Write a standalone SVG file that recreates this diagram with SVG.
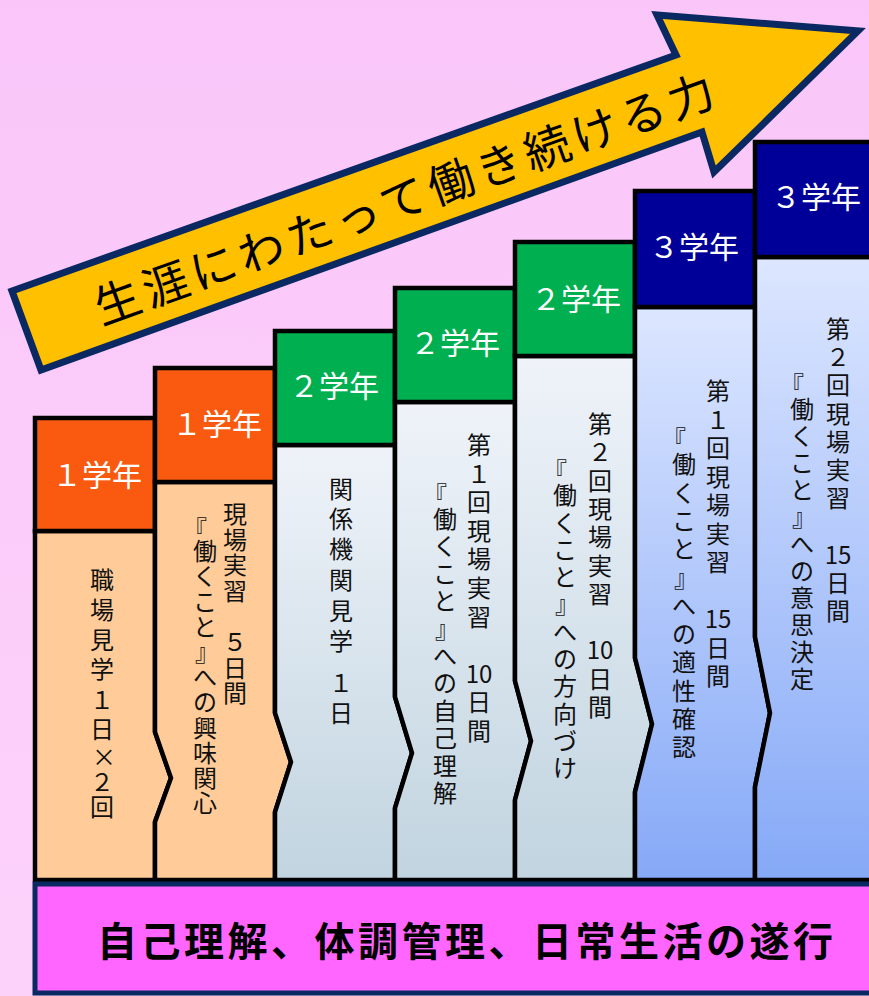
<svg xmlns="http://www.w3.org/2000/svg" width="869" height="996" viewBox="0 0 869 996">
<defs>
<linearGradient id="gBlue" x1="0" y1="0" x2="0" y2="1">
<stop offset="0" stop-color="#EFF3F9"/>
<stop offset="1" stop-color="#C1D4E0"/>
</linearGradient>
<linearGradient id="gNavy" x1="0" y1="0" x2="0" y2="1">
<stop offset="0" stop-color="#DCE6FF"/>
<stop offset="1" stop-color="#86A9F7"/>
</linearGradient>
<linearGradient id="gBg" x1="0" y1="0" x2="0" y2="1">
<stop offset="0" stop-color="#FAC6F9"/>
<stop offset="1" stop-color="#FCD2FA"/>
</linearGradient>
</defs>
<style>
.body{stroke:#000;stroke-width:4.5;stroke-linejoin:miter}
.peach{fill:#FFCC99}
.blue{fill:url(#gBlue)}
.navyb{fill:url(#gNavy)}
.hdr{stroke:#000;stroke-width:4.5}
.orange{fill:#F95A10}
.green{fill:#00B050}
.navy{fill:#000099}
.hd{font-family:"Noto Sans CJK JP","Noto Sans",sans-serif;font-size:30px;fill:#fff;text-anchor:middle;dominant-baseline:central}
.v,.v tspan{font-family:"Noto Sans CJK JP","Noto Sans",sans-serif;font-size:24px;fill:#111;text-anchor:middle;dominant-baseline:central}
.arrowtxt{font-family:"Noto Sans CJK JP","Noto Sans",sans-serif;font-size:46px;fill:#000;text-anchor:middle;dominant-baseline:central}
.basetxt{font-family:"Noto Sans CJK JP","Noto Sans",sans-serif;font-size:40px;font-weight:bold;fill:#000;text-anchor:middle;dominant-baseline:central}
</style>
<rect x="0" y="0" width="869" height="996" fill="url(#gBg)"/>

<g id="arrow">
<path d="M12,291 L676,55 L657,15 L858,31 L714,172 L702,132 L41,370 Z" fill="#FFC000" stroke="#0A2862" stroke-width="7" stroke-linejoin="miter" stroke-miterlimit="10"/>
<text class="arrowtxt" transform="translate(403,196) rotate(-19.7)" x="0" y="0" textLength="655" lengthAdjust="spacing">生涯にわたって働き続ける力</text>
</g>

<g id="connectors"></g>

<g id="col1">
<path class="body peach" d="M35,531 L155,531 L155,732 L171,778 L155,822 L155,880 L35,880 Z"/>
<rect class="hdr orange" x="35" y="418" width="120" height="113"/>
<text class="hd" x="97" y="473">１学年</text>
<text class="v"><tspan x="102" y="578">職</tspan><tspan x="102" y="608">場</tspan><tspan x="102" y="638">見</tspan><tspan x="102" y="667">学</tspan><tspan x="102" y="698">１</tspan><tspan x="102" y="727">日</tspan><tspan x="104" y="755">×</tspan><tspan x="102" y="780">２</tspan><tspan x="102" y="805">回</tspan></text>
</g>

<g id="col2">
<path class="body peach" d="M155,482 L275,482 L275,713 L291,762 L275,812 L275,880 L155,880 L155,822 L171,778 L155,732 Z"/>
<rect class="hdr orange" x="155" y="368" width="120" height="114"/>
<text class="hd" x="217" y="422">１学年</text>
<text class="v"><tspan x="235" y="512">現</tspan><tspan x="235" y="538">場</tspan><tspan x="235" y="563">実</tspan><tspan x="235" y="589">習</tspan><tspan x="235" y="640">５</tspan><tspan x="235" y="666">日</tspan><tspan x="235" y="691">間</tspan></text>
<text class="v"><tspan x="195" y="527">『</tspan><tspan x="205" y="549">働</tspan><tspan x="205" y="574">く</tspan><tspan x="205" y="600">こ</tspan><tspan x="205" y="625">と</tspan><tspan x="207" y="650">』</tspan><tspan x="205" y="675">へ</tspan><tspan x="205" y="700">の</tspan><tspan x="205" y="726">興</tspan><tspan x="205" y="751">味</tspan><tspan x="205" y="776">関</tspan><tspan x="205" y="801">心</tspan></text>
</g>

<g id="col3">
<path class="body blue" d="M275,445 L395,445 L395,697 L412,753 L395,808 L395,880 L275,880 L275,812 L291,762 L275,713 Z"/>
<rect class="hdr green" x="275" y="331" width="120" height="114"/>
<text class="hd" x="334" y="384">２学年</text>
<text class="v"><tspan x="341" y="487">関</tspan><tspan x="341" y="517">係</tspan><tspan x="341" y="547">機</tspan><tspan x="341" y="578">関</tspan><tspan x="341" y="609">見</tspan><tspan x="341" y="639">学</tspan><tspan x="341" y="681">１</tspan><tspan x="341" y="711">日</tspan></text>
</g>

<g id="col4">
<path class="body blue" d="M395,402 L515,402 L515,681 L531,741 L515,800 L515,880 L395,880 L395,808 L412,753 L395,697 Z"/>
<rect class="hdr green" x="395" y="288" width="120" height="114"/>
<text class="hd" x="455" y="341">２学年</text>
<text class="v"><tspan x="479" y="443">第</tspan><tspan x="479" y="472">１</tspan><tspan x="479" y="500">回</tspan><tspan x="479" y="529">現</tspan><tspan x="479" y="557">場</tspan><tspan x="479" y="586">実</tspan><tspan x="479" y="615">習</tspan><tspan x="479" y="672">10</tspan><tspan x="479" y="700">日</tspan><tspan x="479" y="729">間</tspan></text>
<text class="v"><tspan x="435" y="493">『</tspan><tspan x="445" y="517">働</tspan><tspan x="445" y="544">く</tspan><tspan x="445" y="572">こ</tspan><tspan x="445" y="599">と</tspan><tspan x="447" y="627">』</tspan><tspan x="445" y="654">へ</tspan><tspan x="445" y="681">の</tspan><tspan x="445" y="709">自</tspan><tspan x="445" y="736">己</tspan><tspan x="445" y="764">理</tspan><tspan x="445" y="791">解</tspan></text>
</g>

<g id="col5">
<path class="body blue" d="M515,356 L635,356 L635,658 L652,724 L635,792 L635,880 L515,880 L515,800 L531,741 L515,681 Z"/>
<rect class="hdr green" x="515" y="242" width="120" height="114"/>
<text class="hd" x="576" y="297">２学年</text>
<text class="v"><tspan x="600" y="422">第</tspan><tspan x="600" y="450">２</tspan><tspan x="600" y="479">回</tspan><tspan x="600" y="507">現</tspan><tspan x="600" y="535">場</tspan><tspan x="600" y="564">実</tspan><tspan x="600" y="592">習</tspan><tspan x="600" y="648">10</tspan><tspan x="600" y="677">日</tspan><tspan x="600" y="705">間</tspan></text>
<text class="v"><tspan x="555" y="469">『</tspan><tspan x="565" y="493">働</tspan><tspan x="565" y="521">く</tspan><tspan x="565" y="548">こ</tspan><tspan x="565" y="575">と</tspan><tspan x="567" y="602">』</tspan><tspan x="565" y="630">へ</tspan><tspan x="565" y="657">の</tspan><tspan x="565" y="684">方</tspan><tspan x="565" y="712">向</tspan><tspan x="565" y="739">づ</tspan><tspan x="565" y="766">け</tspan></text>
</g>

<g id="col6">
<path class="body navyb" d="M635,307 L755,307 L755,637 L770,713 L755,787 L755,880 L635,880 L635,792 L652,724 L635,658 Z"/>
<rect class="hdr navy" x="635" y="191" width="120" height="116"/>
<text class="hd" x="694" y="245">３学年</text>
<text class="v"><tspan x="718" y="389">第</tspan><tspan x="718" y="418">１</tspan><tspan x="718" y="446">回</tspan><tspan x="718" y="475">現</tspan><tspan x="718" y="503">場</tspan><tspan x="718" y="532">実</tspan><tspan x="718" y="560">習</tspan><tspan x="718" y="617">15</tspan><tspan x="718" y="646">日</tspan><tspan x="718" y="674">間</tspan></text>
<text class="v"><tspan x="674" y="437">『</tspan><tspan x="684" y="462">働</tspan><tspan x="684" y="491">く</tspan><tspan x="684" y="519">こ</tspan><tspan x="684" y="547">と</tspan><tspan x="686" y="576">』</tspan><tspan x="684" y="604">へ</tspan><tspan x="684" y="632">の</tspan><tspan x="684" y="660">適</tspan><tspan x="684" y="689">性</tspan><tspan x="684" y="717">確</tspan><tspan x="684" y="745">認</tspan></text>
</g>

<g id="col7">
<path class="body navyb" d="M755,257 L880,257 L880,880 L755,880 L755,787 L770,713 L755,637 Z"/>
<rect class="hdr navy" x="755" y="142" width="125" height="115"/>
<text class="hd" x="816" y="195">３学年</text>
<text class="v"><tspan x="838" y="327">第</tspan><tspan x="838" y="355">２</tspan><tspan x="838" y="383">回</tspan><tspan x="838" y="412">現</tspan><tspan x="838" y="440">場</tspan><tspan x="838" y="468">実</tspan><tspan x="838" y="496">習</tspan><tspan x="838" y="553">15</tspan><tspan x="838" y="581">日</tspan><tspan x="838" y="609">間</tspan></text>
<text class="v"><tspan x="792" y="383">『</tspan><tspan x="802" y="407">働</tspan><tspan x="802" y="434">く</tspan><tspan x="802" y="461">こ</tspan><tspan x="802" y="488">と</tspan><tspan x="804" y="515">』</tspan><tspan x="802" y="542">へ</tspan><tspan x="802" y="569">の</tspan><tspan x="802" y="596">意</tspan><tspan x="802" y="623">思</tspan><tspan x="802" y="650">決</tspan><tspan x="802" y="677">定</tspan></text>
</g>

<g id="base">
<rect x="35" y="884" width="850" height="109" fill="#FF66FF" stroke="#0A2862" stroke-width="5"/>
<text class="basetxt" x="465" y="939" textLength="736" lengthAdjust="spacing">自己理解、体調管理、日常生活の遂行</text>
</g>
</svg>
